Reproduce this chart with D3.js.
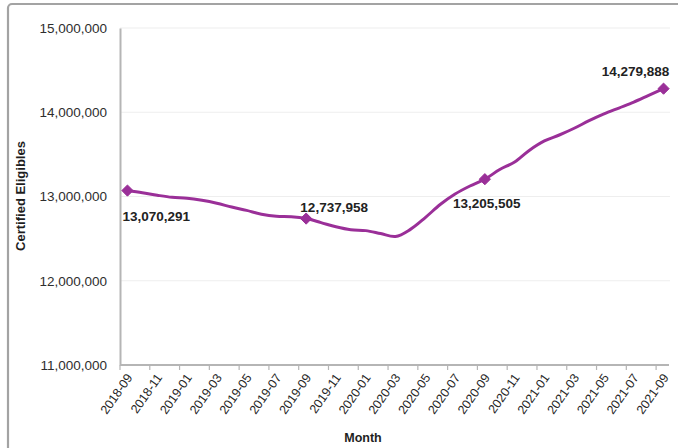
<!DOCTYPE html>
<html>
<head>
<meta charset="utf-8">
<script src="https://cdn.jsdelivr.net/npm/d3@7"></script>
<style>
  body { margin: 0; background: #fff; }
  text { font-family: "Liberation Sans", Arial, sans-serif; }
</style>
</head>
<body>
<div id="chart"></div>
<script>
// monthly certified eligibles
const months = ["2018-09","2018-10","2018-11","2018-12","2019-01","2019-02","2019-03","2019-04","2019-05",
  "2019-06","2019-07","2019-08","2019-09","2019-10","2019-11","2019-12","2020-01","2020-02","2020-03",
  "2020-04","2020-05","2020-06","2020-07","2020-08","2020-09","2020-10","2020-11","2020-12","2021-01",
  "2021-02","2021-03","2021-04","2021-05","2021-06","2021-07","2021-08","2021-09"]
const eligibles = [13070291,13045000,13015000,12990000,12980000,12955000,12920000,12875000,12835000,
  12790000,12765000,12760000,12737958,12690000,12640000,12605000,12595000,12560000,12525000,
  12610000,12750000,12905000,13030000,13125000,13205505,13320000,13410000,13550000,13660000,
  13730000,13810000,13900000,13980000,14050000,14120000,14200000,14279888]
// months that get a diamond and a value label
const labelled = ["2018-09","2019-09","2020-09","2021-09"]
const yTicks = [11000000,12000000,13000000,14000000,15000000]
const xTickLabels = months.filter((m, i) => i % 2 == 0)

const W = 678, H = 448
const plotL = 120, plotR = 671, plotT = 28, plotB = 365

const data = months.map((m, i) => ({ month: m, value: eligibles[i] }))

const svg = d3.select("#chart").append("svg")
  .attr("width", W)
  .attr("height", H)

// outer frame (runs off the right and bottom edges like the screenshot)
svg.append("rect")
  .attr("x", 8).attr("y", 4)
  .attr("width", 720).attr("height", 500)
  .attr("rx", 4)
  .attr("fill", "none")
  .attr("stroke", "#a3a3a3")
  .attr("stroke-width", 2.2)

const x = d3.scaleBand().domain(months).range([plotL, plotR]).padding(0)
const y = d3.scaleLinear().domain([11000000, 15000000]).range([plotB, plotT])
const cx = m => x(m) + x.bandwidth() / 2

// gridlines
svg.append("g")
  .selectAll("line")
  .data(yTicks.slice(1))
  .join("line")
  .attr("x1", plotL).attr("x2", plotR - 1)
  .attr("y1", d => y(d)).attr("y2", d => y(d))
  .attr("stroke", "#eeeeee")
  .attr("stroke-width", 1.2)

// y axis
const yAxis = svg.append("g")
  .attr("transform", "translate(" + plotL + ",0)")
  .call(d3.axisLeft(y).tickValues(yTicks).tickSize(0).tickPadding(13).tickFormat(d3.format(",")))
yAxis.select(".domain").attr("stroke", "#b5b5b5").attr("stroke-width", 2)
yAxis.selectAll("text").attr("font-size", 13.5).attr("fill", "#2e2e2e")

// x axis: ticks between categories every 2 months, labels centred on the month
const xAxis = svg.append("g").attr("transform", "translate(0," + plotB + ")")
xAxis.append("line")
  .attr("x1", plotL).attr("x2", plotR - 2)
  .attr("stroke", "#b5b5b5").attr("stroke-width", 2)
xAxis.selectAll(".tk")
  .data(xTickLabels)
  .join("line")
  .attr("class", "tk")
  .attr("x1", d => x(d)).attr("x2", d => x(d))
  .attr("y1", 0).attr("y2", 5)
  .attr("stroke", "#b5b5b5").attr("stroke-width", 1.2)
xAxis.selectAll("text")
  .data(xTickLabels)
  .join("text")
  .attr("transform", d => "translate(" + (cx(d) + 2) + ",10) rotate(-55)")
  .attr("text-anchor", "end")
  .attr("dy", "0.35em")
  .attr("font-size", 12.5)
  .attr("fill", "#262626")
  .text(d => d)

// axis titles
svg.append("text")
  .attr("transform", "translate(25,196) rotate(-90)")
  .attr("text-anchor", "middle")
  .attr("font-size", 13)
  .attr("font-weight", "bold")
  .attr("fill", "#1e1e1e")
  .text("Certified Eligibles")

svg.append("text")
  .attr("x", 363).attr("y", 442)
  .attr("text-anchor", "middle")
  .attr("font-size", 12.5)
  .attr("font-weight", "bold")
  .attr("fill", "#1e1e1e")
  .text("Month")

// the line
const purple = "#9a2f98"
svg.append("path")
  .datum(data)
  .attr("fill", "none")
  .attr("stroke", purple)
  .attr("stroke-width", 3)
  .attr("stroke-linejoin", "round")
  .attr("d", d3.line()
    .x(d => cx(d.month))
    .y(d => y(d.value))
    .curve(d3.curveCatmullRom.alpha(0.5)))

const marked = data.filter(d => labelled.includes(d.month))

svg.append("g")
  .selectAll("path")
  .data(marked)
  .join("path")
  .attr("transform", d => "translate(" + cx(d.month) + "," + y(d.value) + ")")
  .attr("d", d3.symbol(d3.symbolDiamond2, 80))
  .attr("fill", purple)
  .attr("stroke", purple)
  .attr("stroke-width", 1)

// label placement around each marked point
const place = {
  "2018-09": { dx: -5, dy: 30, anchor: "start" },
  "2019-09": { dx: 28, dy: -7, anchor: "middle" },
  "2020-09": { dx: 2, dy: 29, anchor: "middle" },
  "2021-09": { dx: -28, dy: -13, anchor: "middle" }
}

svg.append("g")
  .selectAll("text")
  .data(marked)
  .join("text")
  .attr("x", d => cx(d.month) + place[d.month].dx)
  .attr("y", d => y(d.value) + place[d.month].dy)
  .attr("text-anchor", d => place[d.month].anchor)
  .attr("font-size", 13.5)
  .attr("font-weight", "bold")
  .attr("fill", "#222")
  .text(d => d3.format(",")(d.value))
</script>
</body>
</html>
